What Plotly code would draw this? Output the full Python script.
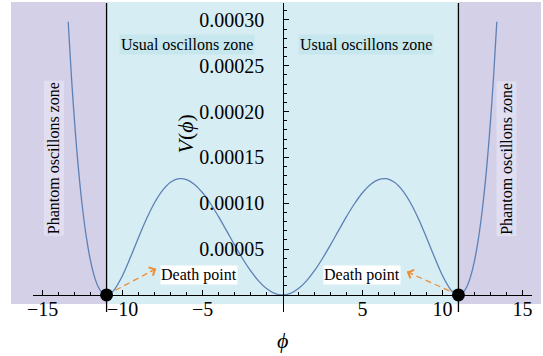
import plotly.graph_objects as go

# ---- data ----
phi = [-13.4, -13.2, -13.0, -12.75, -12.5, -12.25, -12.0, -11.75, -11.5, -11.25, -11.0, -10.75,
       -10.5, -10.0, -9.5, -9.0, -8.5, -8.0, -7.5, -7.0, -6.5, -6.0, -5.5, -5.0, -4.5, -4.0,
       -3.5, -3.0, -2.5, -2.0, -1.5, -1.0, -0.5, 0.0,
       0.5, 1.0, 1.5, 2.0, 2.5, 3.0, 3.5, 4.0, 4.5, 5.0, 5.5, 6.0, 6.5, 7.0, 7.5, 8.0, 8.5,
       9.0, 9.5, 10.0, 10.5, 10.75, 11.0, 11.25, 11.5, 11.75, 12.0, 12.25, 12.5, 12.75, 13.0,
       13.2, 13.4]
V = [2.98e-4, 2.39e-4, 1.885e-4, 1.359e-4, 9.40e-5, 6.14e-5, 3.69e-5, 1.95e-5, 8.1e-6, 1.9e-6, 0.0, 1.65e-6,
     6.17e-6, 2.13e-5, 4.13e-5, 6.27e-5, 8.31e-5, 1.006e-4, 1.141e-4, 1.229e-4, 1.268e-4, 1.259e-4, 1.206e-4,
     1.115e-4, 9.95e-5, 8.54e-5, 7.01e-5, 5.46e-5, 3.98e-5, 2.65e-5, 1.54e-5, 7.0e-6, 1.76e-6, 0.0,
     1.76e-6, 7.0e-6, 1.54e-5, 2.65e-5, 3.98e-5, 5.46e-5, 7.01e-5, 8.54e-5, 9.95e-5, 1.115e-4, 1.206e-4,
     1.259e-4, 1.268e-4, 1.229e-4, 1.141e-4, 1.006e-4, 8.31e-5, 6.27e-5, 4.13e-5, 2.13e-5, 6.17e-6, 1.65e-6,
     0.0, 1.9e-6, 8.1e-6, 1.95e-5, 3.69e-5, 6.14e-5, 9.40e-5, 1.359e-4, 1.885e-4, 2.39e-4, 2.98e-4]

death_phi = [-11.0, 11.0]
death_V = [0.0, 0.0]

x_tickvals = [-15, -10, -5, 5, 10, 15]
x_ticktext = ["\u221215", "\u221210", "\u22125", "5", "10", "15"]
x_minor = [-15, -14, -13, -12, -11, -10, -9, -8, -7, -6, -5, -4, -3, -2, -1,
           1, 2, 3, 4, 5, 6, 7, 8, 9, 10, 11, 12, 13, 14, 15]
y_tickvals = [0.00005, 0.00010, 0.00015, 0.00020, 0.00025, 0.00030]
y_ticktext = ["0.00005", "0.00010", "0.00015", "0.00020", "0.00025", "0.00030"]
y_minor = [0.00001 * k for k in range(1, 32)]

zone_bounds = [-11.0, 11.0]
usual_label_pos = [(-6.0, 0.000273), (5.2, 0.000273)]
phantom_label_pos = [(-14.3, 0.000149), (14.0, 0.000149)]
death_label_pos = [(-5.22, 0.0000218), (5.0, 0.0000218)]
arrow_heads = [(-7.9, 0.0000287), (7.77, 0.0000254)]

# ---- geometry ----
W, H = 543, 356
XR = [-15.6, 15.6]
YR = [-0.0000186, 0.0003185]
ML, MR, MT, MB = 33, 11, 3, 44
FONT = "Liberation Serif"

PURPLE = "rgb(211,208,232)"
CYAN = "rgb(214,237,243)"
CURVE = "rgb(94,129,181)"
ORANGE = "rgb(240,140,50)"

def xp(v):
    return (v - XR[0]) / (XR[1] - XR[0])

def yp(v):
    return (v - YR[0]) / (YR[1] - YR[0])

plot_h = H - MT - MB
plot_w = W - ML - MR
# shading extents in paper coords (from pixel extents)
sh_left = (11 - ML) / plot_w
sh_right = (541 - ML) / plot_w
sh_top = (H - MB - 2) / plot_h
sh_bot = (H - MB - 304) / plot_h

fig = go.Figure()

fig.add_trace(go.Scatter(x=phi, y=V, mode="lines", line=dict(color=CURVE, width=1.3, shape="spline"),
                         hoverinfo="skip", showlegend=False))

# dashed arrows from death points
for (hx, hy), dx, dy in zip(arrow_heads, death_phi, death_V):
    fig.add_trace(go.Scatter(x=[dx, hx], y=[dy, hy], mode="lines",
                             line=dict(color=ORANGE, width=1.3, dash="6px,4px"),
                             hoverinfo="skip", showlegend=False))
    fig.add_annotation(x=hx, y=hy, ax=hx - 0.15 * (hx - dx), ay=hy - 0.15 * (hy - dy),
                       xref="x", yref="y", axref="x", ayref="y", text="",
                       showarrow=True, arrowhead=4, arrowsize=1.5, arrowwidth=1.2,
                       arrowcolor=ORANGE, standoff=0)

fig.add_trace(go.Scatter(x=death_phi, y=death_V, mode="markers",
                         marker=dict(color="black", size=13), cliponaxis=False,
                         hoverinfo="skip", showlegend=False))

shapes = [
    dict(type="rect", xref="paper", yref="paper", x0=sh_left, x1=xp(zone_bounds[0]), y0=sh_bot, y1=sh_top,
         fillcolor=PURPLE, line=dict(width=0), layer="below"),
    dict(type="rect", xref="paper", yref="paper", x0=xp(zone_bounds[0]), x1=xp(zone_bounds[1]), y0=sh_bot, y1=sh_top,
         fillcolor=CYAN, line=dict(width=0), layer="below"),
    dict(type="rect", xref="paper", yref="paper", x0=xp(zone_bounds[1]), x1=sh_right, y0=sh_bot, y1=sh_top,
         fillcolor=PURPLE, line=dict(width=0), layer="below"),
]
for b in zone_bounds:
    shapes.append(dict(type="line", xref="paper", yref="paper", x0=xp(b), x1=xp(b), y0=0, y1=1,
                       line=dict(color="black", width=1.3), layer="above"))
fig.update_layout(shapes=shapes)

for (lx, ly) in usual_label_pos:
    fig.add_annotation(x=lx, y=ly, xref="x", yref="y", text="Usual oscillons zone", showarrow=False,
                       font=dict(family=FONT, size=16, color="black"), bgcolor="rgb(198,231,238)", borderpad=1)
for (lx, ly) in phantom_label_pos:
    fig.add_annotation(x=lx, y=ly, xref="x", yref="y", text="Phantom oscillons zone", showarrow=False,
                       textangle=-90, font=dict(family=FONT, size=16, color="black"),
                       bgcolor="rgb(224,222,240)", borderpad=1)
for (lx, ly) in death_label_pos:
    fig.add_annotation(x=lx, y=ly, xref="x", yref="y", text="Death point", showarrow=False,
                       font=dict(family=FONT, size=16, color="black"), bgcolor="white", borderpad=0)

# axis titles
fig.add_annotation(x=-6.06, y=0.0001756, xref="x", yref="y", text="<i>V</i>(<i>\u03d5</i>)", showarrow=False,
                   textangle=-90, font=dict(family=FONT, size=22, color="black"))
fig.add_annotation(x=xp(0), y=-(340 - (H - MB)) / plot_h, xref="paper", yref="paper", text="<i>\u03d5</i>",
                   showarrow=False, yanchor="middle", font=dict(family=FONT, size=22, color="black"))

fig.update_layout(
    width=W, height=H, autosize=False,
    margin=dict(l=ML, r=MR, t=MT, b=MB, pad=0),
    paper_bgcolor="white", plot_bgcolor="rgba(0,0,0,0)",
    font=dict(family=FONT, size=20, color="black"),
    showlegend=False,
    xaxis=dict(range=XR, anchor="free", position=yp(0), showgrid=False, zeroline=False,
               showline=True, linecolor="black", linewidth=1.3,
               tickmode="array", tickvals=x_tickvals, ticktext=x_ticktext,
               ticks="inside", ticklen=5, tickwidth=1.2, tickcolor="black",
               ticklabelstandoff=-4,
               minor=dict(tickmode="array", tickvals=x_minor, ticks="inside", ticklen=3,
                          tickwidth=1, tickcolor="black"),
               tickfont=dict(family=FONT, size=20, color="black")),
    yaxis=dict(range=YR, anchor="free", position=xp(0), showgrid=False, zeroline=False,
               showline=True, linecolor="black", linewidth=1.3,
               tickmode="array", tickvals=y_tickvals, ticktext=y_ticktext,
               ticks="inside", ticklen=5, tickwidth=1.2, tickcolor="black",
               ticklabelstandoff=14,
               minor=dict(tickmode="array", tickvals=y_minor, ticks="inside", ticklen=3,
                          tickwidth=1, tickcolor="black"),
               tickfont=dict(family=FONT, size=20, color="black")),
)

fig.write_html("out.html")
